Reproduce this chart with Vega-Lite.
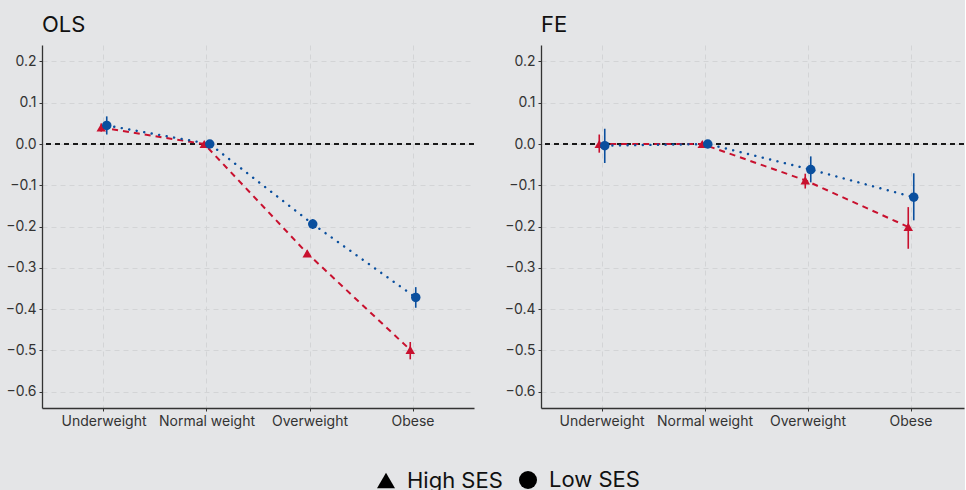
{
  "$schema": "https://vega.github.io/schema/vega-lite/v6.json",
  "background": "#e4e5e7",
  "padding": {"left": 5, "top": 14, "right": 0, "bottom": 0},
  "datasets": {
    "coef": [
      {"model": "OLS", "bmi": "Underweight", "ses": "High SES", "est": 0.04, "lo": 0.03, "hi": 0.05},
      {"model": "OLS", "bmi": "Normal weight", "ses": "High SES", "est": 0.0, "lo": 0.0, "hi": 0.0},
      {"model": "OLS", "bmi": "Overweight", "ses": "High SES", "est": -0.265, "lo": -0.272, "hi": -0.258},
      {"model": "OLS", "bmi": "Obese", "ses": "High SES", "est": -0.499, "lo": -0.522, "hi": -0.48},
      {"model": "OLS", "bmi": "Underweight", "ses": "Low SES", "est": 0.045, "lo": 0.023, "hi": 0.067},
      {"model": "OLS", "bmi": "Normal weight", "ses": "Low SES", "est": 0.0, "lo": 0.0, "hi": 0.0},
      {"model": "OLS", "bmi": "Overweight", "ses": "Low SES", "est": -0.194, "lo": -0.206, "hi": -0.182},
      {"model": "OLS", "bmi": "Obese", "ses": "Low SES", "est": -0.372, "lo": -0.397, "hi": -0.347},
      {"model": "FE", "bmi": "Underweight", "ses": "High SES", "est": 0.0, "lo": -0.021, "hi": 0.023},
      {"model": "FE", "bmi": "Normal weight", "ses": "High SES", "est": 0.0, "lo": 0.0, "hi": 0.0},
      {"model": "FE", "bmi": "Overweight", "ses": "High SES", "est": -0.088, "lo": -0.108, "hi": -0.072},
      {"model": "FE", "bmi": "Obese", "ses": "High SES", "est": -0.201, "lo": -0.254, "hi": -0.153},
      {"model": "FE", "bmi": "Underweight", "ses": "Low SES", "est": -0.004, "lo": -0.046, "hi": 0.037},
      {"model": "FE", "bmi": "Normal weight", "ses": "Low SES", "est": 0.0, "lo": 0.0, "hi": 0.0},
      {"model": "FE", "bmi": "Overweight", "ses": "Low SES", "est": -0.062, "lo": -0.093, "hi": -0.03},
      {"model": "FE", "bmi": "Obese", "ses": "Low SES", "est": -0.129, "lo": -0.185, "hi": -0.071}
    ]
  },
  "spacing": 29,
  "resolve": {"scale": {"x": "independent", "xOffset": "independent"}},
  "hconcat": [
    {
      "width": 432,
      "height": 363,
      "title": {"text": "OLS"},
      "data": {"name": "coef"},
      "transform": [{"filter": "datum.model === 'OLS'"}],
      "layer": [
        {
          "mark": {"type": "rule", "color": "#1a1a1a", "strokeDash": [5, 4], "strokeWidth": 1.3},
          "encoding": {"y": {"datum": 0, "type": "quantitative", "scale": {"domain": [-0.64, 0.24], "nice": false, "zero": false}, "axis": {"values": [-0.6, -0.5, -0.4, -0.3, -0.2, -0.1, 0, 0.1, 0.2], "format": ".1f"}}}
        },
        {
          "transform": [{"filter": "datum.ses === 'High SES'"}],
          "mark": {"type": "line", "strokeDash": [6, 5], "strokeWidth": 2},
          "encoding": {
            "x": {"field": "bmi", "type": "nominal", "sort": ["Underweight", "Normal weight", "Overweight", "Obese"], "scale": {"type": "band", "paddingInner": 0, "paddingOuter": 0.097, "align": 0.525}, "axis": {"bandPosition": 0.5}},
            "xOffset": {"field": "ses", "type": "nominal", "scale": {"type": "point", "domain": ["High SES", "Low SES"], "range": [46, 57]}},
            "y": {"field": "est", "type": "quantitative"},
            "color": {"field": "ses", "type": "nominal", "legend": null}
          }
        },
        {
          "transform": [{"filter": "datum.ses === 'Low SES'"}],
          "mark": {"type": "line", "strokeDash": [0.1, 7.5], "strokeCap": "round", "strokeWidth": 2.4},
          "encoding": {
            "x": {"field": "bmi", "type": "nominal", "sort": ["Underweight", "Normal weight", "Overweight", "Obese"]},
            "xOffset": {"field": "ses", "type": "nominal"},
            "y": {"field": "est", "type": "quantitative"},
            "color": {"field": "ses", "type": "nominal", "legend": null}
          }
        },
        {
          "mark": {"type": "rule", "strokeWidth": 1.6},
          "encoding": {
            "x": {"field": "bmi", "type": "nominal", "sort": ["Underweight", "Normal weight", "Overweight", "Obese"]},
            "xOffset": {"field": "ses", "type": "nominal"},
            "y": {"field": "lo", "type": "quantitative"},
            "y2": {"field": "hi"},
            "color": {"field": "ses", "type": "nominal", "legend": null}
          }
        },
        {
          "mark": {"type": "point", "filled": true, "opacity": 1, "size": 90},
          "encoding": {
            "x": {"field": "bmi", "type": "nominal", "sort": ["Underweight", "Normal weight", "Overweight", "Obese"]},
            "xOffset": {"field": "ses", "type": "nominal"},
            "y": {"field": "est", "type": "quantitative"},
            "color": {"field": "ses", "type": "nominal", "legend": null},
            "shape": {
              "field": "ses", "type": "nominal",
              "scale": {"domain": ["High SES", "Low SES"], "range": ["triangle-up", "circle"]},
              "legend": {
                "encode": {
                  "symbols": {
                    "fill": {"value": {"expr": "datum.value === 'High SES' ? '#c8102e' : '#0a4f9e'"}},
                    "stroke": {"value": "transparent"},
                    "opacity": {"value": 1},
                    "shape": {"value": {"expr": "datum.value === 'High SES' ? 'M-0.34,0.25L0,-0.38L0.34,0.25Z M-0.045,-1L0.045,-1L0.045,1L-0.045,1Z M-1,-0.045L1,-0.045L1,0.045L-1,0.045Z' : 'M-0.26,0A0.26,0.26 0 1,0 0.26,0A0.26,0.26 0 1,0 -0.26,0Z M-0.045,-1L0.045,-1L0.045,1L-0.045,1Z M-0.55,-0.06L-0.43,-0.06L-0.43,0.06L-0.55,0.06Z M0.43,-0.06L0.55,-0.06L0.55,0.06L0.43,0.06Z'"}}
                  }
                }
              }
            }
          }
        }
      ]
    },
    {
      "width": 423,
      "height": 363,
      "title": {"text": "FE"},
      "data": {"name": "coef"},
      "transform": [{"filter": "datum.model === 'FE'"}],
      "layer": [
        {
          "mark": {"type": "rule", "color": "#1a1a1a", "strokeDash": [5, 4], "strokeWidth": 1.3},
          "encoding": {"y": {"datum": 0, "type": "quantitative", "scale": {"domain": [-0.64, 0.24], "nice": false, "zero": false}, "axis": {"values": [-0.6, -0.5, -0.4, -0.3, -0.2, -0.1, 0, 0.1, 0.2], "format": ".1f"}}}
        },
        {
          "transform": [{"filter": "datum.ses === 'High SES'"}],
          "mark": {"type": "line", "strokeDash": [6, 5], "strokeWidth": 2},
          "encoding": {
            "x": {"field": "bmi", "type": "nominal", "sort": ["Underweight", "Normal weight", "Overweight", "Obese"], "scale": {"type": "band", "paddingInner": 0, "paddingOuter": 0.0534, "align": 0.864}, "axis": {"bandPosition": 0.5}},
            "xOffset": {"field": "ses", "type": "nominal", "scale": {"type": "point", "domain": ["High SES", "Low SES"], "range": [46, 57]}},
            "y": {"field": "est", "type": "quantitative"},
            "color": {"field": "ses", "type": "nominal", "legend": null}
          }
        },
        {
          "transform": [{"filter": "datum.ses === 'Low SES'"}],
          "mark": {"type": "line", "strokeDash": [0.1, 7.5], "strokeCap": "round", "strokeWidth": 2.4},
          "encoding": {
            "x": {"field": "bmi", "type": "nominal", "sort": ["Underweight", "Normal weight", "Overweight", "Obese"]},
            "xOffset": {"field": "ses", "type": "nominal"},
            "y": {"field": "est", "type": "quantitative"},
            "color": {"field": "ses", "type": "nominal", "legend": null}
          }
        },
        {
          "mark": {"type": "rule", "strokeWidth": 1.6},
          "encoding": {
            "x": {"field": "bmi", "type": "nominal", "sort": ["Underweight", "Normal weight", "Overweight", "Obese"]},
            "xOffset": {"field": "ses", "type": "nominal"},
            "y": {"field": "lo", "type": "quantitative"},
            "y2": {"field": "hi"},
            "color": {"field": "ses", "type": "nominal", "legend": null}
          }
        },
        {
          "mark": {"type": "point", "filled": true, "opacity": 1, "size": 90},
          "encoding": {
            "x": {"field": "bmi", "type": "nominal", "sort": ["Underweight", "Normal weight", "Overweight", "Obese"]},
            "xOffset": {"field": "ses", "type": "nominal"},
            "y": {"field": "est", "type": "quantitative"},
            "color": {"field": "ses", "type": "nominal", "legend": null},
            "shape": {
              "field": "ses", "type": "nominal",
              "scale": {"domain": ["High SES", "Low SES"], "range": ["triangle-up", "circle"]},
              "legend": {
                "encode": {
                  "symbols": {
                    "fill": {"value": {"expr": "datum.value === 'High SES' ? '#c8102e' : '#0a4f9e'"}},
                    "stroke": {"value": "transparent"},
                    "opacity": {"value": 1},
                    "shape": {"value": {"expr": "datum.value === 'High SES' ? 'M-0.34,0.25L0,-0.38L0.34,0.25Z M-0.045,-1L0.045,-1L0.045,1L-0.045,1Z M-1,-0.045L1,-0.045L1,0.045L-1,0.045Z' : 'M-0.26,0A0.26,0.26 0 1,0 0.26,0A0.26,0.26 0 1,0 -0.26,0Z M-0.045,-1L0.045,-1L0.045,1L-0.045,1Z M-0.55,-0.06L-0.43,-0.06L-0.43,0.06L-0.55,0.06Z M0.43,-0.06L0.55,-0.06L0.55,0.06L0.43,0.06Z'"}}
                  }
                }
              }
            }
          }
        }
      ]
    }
  ],
  "config": {
    "font": "Inter",
    "view": {"stroke": null},
    "title": {"anchor": "start", "frame": "group", "fontSize": 22, "fontWeight": "normal", "color": "#111111", "offset": 8},
    "axis": {
      "title": null,
      "domainColor": "#333333",
      "domainWidth": 1.3,
      "tickColor": "#333333",
      "tickSize": 3,
      "labelColor": "#333333",
      "labelFontSize": 14,
      "labelPadding": 3,
      "grid": true,
      "gridColor": "#d3d4d6",
      "gridDash": [5, 4],
      "gridWidth": 1
    },
    "axisX": {"labelAngle": 0},
    "axisY": {"minExtent": 30, "maxExtent": 30},
    "range": {"category": ["#c8102e", "#0a4f9e"]},
    "legend": {
      "title": null,
      "orient": "none",
      "direction": "horizontal",
      "legendX": 333,
      "legendY": 424,
      "labelFontSize": 22,
      "labelFontWeight": "normal",
      "labelColor": "#111111",
      "symbolSize": 324,
      "columnPadding": 13,
      "labelOffset": 10
    }
  }
}
